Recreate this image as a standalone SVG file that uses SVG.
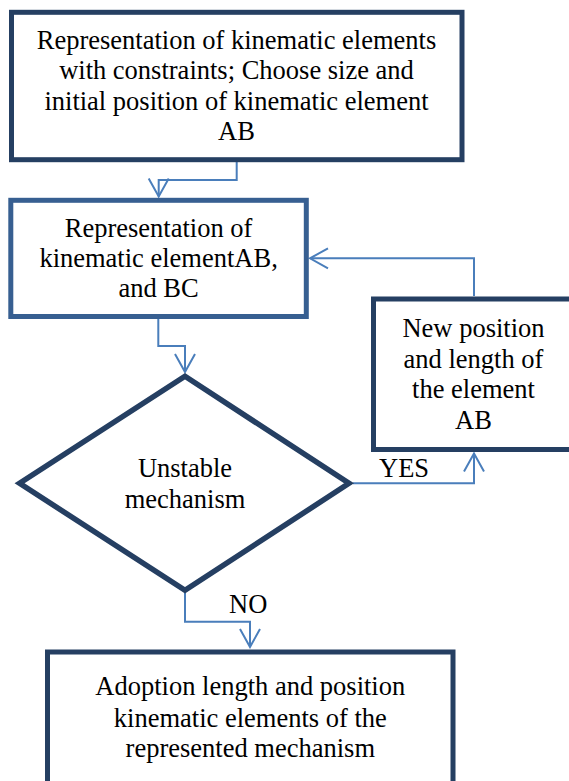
<svg xmlns="http://www.w3.org/2000/svg" width="569" height="781" viewBox="0 0 569 781">
  <style>
    .box { fill: #ffffff; stroke: #253f62; stroke-width: 5; }
    .box2 { fill: #ffffff; stroke: #375f91; stroke-width: 5; }
    .dia { fill: #ffffff; stroke: #253f62; stroke-width: 5.5; stroke-linejoin: miter; }
    .lbl { font-family: "Liberation Serif", "Times New Roman", serif; font-size: 26.5px; fill: #000000; text-anchor: middle; }
    .edge { font-family: "Liberation Serif", "Times New Roman", serif; font-size: 26.5px; fill: #000000; }
    .conn { fill: none; stroke: #4a7ebb; stroke-width: 2; }
  </style>
  <defs>
    <marker id="arrow" markerUnits="userSpaceOnUse" viewBox="-20 -12 22 24" markerWidth="22" markerHeight="24" refX="0" refY="0" orient="auto">
      <path d="M-18,-10 L0,0 L-18,10" fill="none" stroke="#4a7ebb" stroke-width="2"/>
    </marker>
  </defs>
  <rect width="569" height="781" fill="#ffffff"/>

  <g id="connectors">
    <path class="conn" d="M236.7,162 V180 H158.7 V196.5" marker-end="url(#arrow)"/>
    <path class="conn" d="M158.3,319 V346 H185 V372" marker-end="url(#arrow)"/>
    <path class="conn" d="M353,483.3 H474 V453.5" marker-end="url(#arrow)"/>
    <path class="conn" d="M474,296 V258.3 H310" marker-end="url(#arrow)"/>
    <path class="conn" d="M185,593 V621.7 H250 V647" marker-end="url(#arrow)"/>
    <text class="edge" x="379" y="477.3">YES</text>
    <text class="edge" x="229" y="612.7">NO</text>
  </g>

  <g id="node-start">
    <rect class="box" x="11.5" y="12.3" width="450.5" height="147.4"/>
    <text class="lbl" x="236.5" y="49">Representation of kinematic elements</text>
    <text class="lbl" x="236.5" y="79.3">with constraints; Choose size and</text>
    <text class="lbl" x="236.5" y="109.6">initial position of kinematic element</text>
    <text class="lbl" x="236.5" y="140.4">AB</text>
  </g>

  <g id="node-represent">
    <rect class="box2" x="10.8" y="200.3" width="295.5" height="116.2"/>
    <text class="lbl" x="158.6" y="236.7">Representation of</text>
    <text class="lbl" x="158.6" y="266.7">kinematic elementAB,</text>
    <text class="lbl" x="158.6" y="296.7">and BC</text>
  </g>

  <g id="node-decision">
    <polygon class="dia" points="185,376.3 349,483.3 185,590.3 19.6,483.3"/>
    <text class="lbl" x="185" y="476.7">Unstable</text>
    <text class="lbl" x="185" y="508">mechanism</text>
  </g>

  <g id="node-new-position">
    <rect class="box" x="373.5" y="299" width="240" height="150.5"/>
    <text class="lbl" x="473.5" y="337">New position</text>
    <text class="lbl" x="473.5" y="367.5">and length of</text>
    <text class="lbl" x="473.5" y="397.5">the element</text>
    <text class="lbl" x="473.5" y="428.5">AB</text>
  </g>

  <g id="node-adoption">
    <rect class="box" x="47.5" y="652" width="405.5" height="160"/>
    <text class="lbl" x="250.3" y="695">Adoption length and position</text>
    <text class="lbl" x="250.3" y="726.5">kinematic elements of the</text>
    <text class="lbl" x="250.3" y="756.7">represented mechanism</text>
  </g>
</svg>
